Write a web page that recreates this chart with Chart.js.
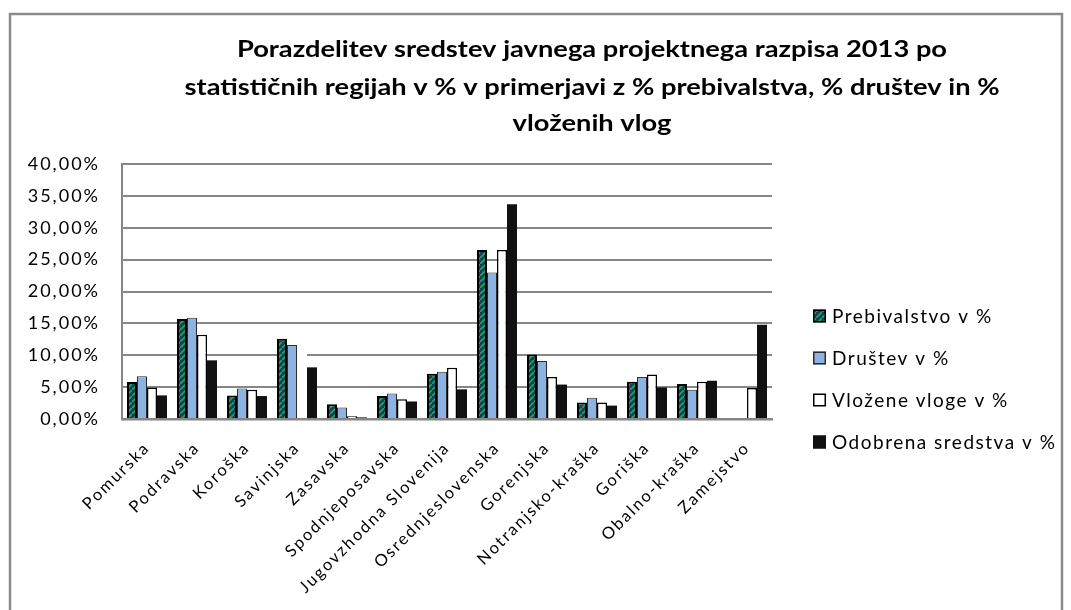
<!DOCTYPE html>
<html>
<head>
<meta charset="utf-8">
<script src="https://cdn.jsdelivr.net/npm/chart.js@4.4.1/dist/chart.umd.min.js"></script>
<style>
  html, body { margin: 0; padding: 0; background: #ffffff; }
  #wrap { width: 1071px; height: 610px; position: relative; }
</style>
</head>
<body>
<div id="wrap"><canvas id="c" width="1071" height="610"></canvas></div>
<script>
const categories = ["Pomurska", "Podravska", "Koroška", "Savinjska", "Zasavska", "Spodnjeposavska",
  "Jugovzhodna Slovenija", "Osrednjeslovenska", "Gorenjska", "Notranjsko-kraška", "Goriška",
  "Obalno-kraška", "Zamejstvo"];
const seriesNames = ["Prebivalstvo v %", "Društev v %", "Vložene vloge v %", "Odobrena sredstva v %"];
const prebivalstvo = [5.8, 15.7, 3.7, 12.6, 2.3, 3.6, 7.1, 26.5, 10.1, 2.6, 5.85, 5.5, null];
const drustev      = [6.7, 15.9, 4.8, 11.6, 1.8, 4.0, 7.4, 23.0, 9.1, 3.35, 6.6, 4.6, null];
const vlozene      = [4.95, 13.2, 4.6, 10.6, 0.45, 3.1, 8.05, 26.5, 6.6, 2.6, 7.0, 5.85, 4.85];
const odobrena     = [3.7, 9.2, 3.6, 8.1, 0.25, 2.75, 4.65, 33.7, 5.4, 2.1, 4.95, 6.0, 14.8];
const yTicks = [0, 5, 10, 15, 20, 25, 30, 35, 40];
const titleLines = [
  "Porazdelitev sredstev javnega projektnega razpisa 2013 po",
  "statističnih regijah v % v primerjavi z % prebivalstva, % društev in %",
  "vloženih vlog"
];

function makePattern() {
  const p = document.createElement('canvas');
  p.width = 6; p.height = 6;
  const g = p.getContext('2d');
  g.fillStyle = '#1f3a5f';
  g.fillRect(0, 0, 6, 6);
  g.strokeStyle = '#12b04e';
  g.lineWidth = 1.6;
  g.beginPath();
  g.moveTo(-1, 7); g.lineTo(7, -1);
  g.stroke();
  return document.getElementById('c').getContext('2d').createPattern(p, 'repeat');
}
const greenPattern = makePattern();

const fills = [greenPattern, '#8db3e2', '#ffffff', '#111111'];
const borders = ['#000000', '#2b2b2b', '#000000', '#111111'];

const framePlugin = {
  id: 'frame',
  beforeDraw(chart) {
    const ctx = chart.ctx;
    ctx.save();
    ctx.fillStyle = '#ffffff';
    ctx.fillRect(0, 0, chart.width, chart.height);
    ctx.strokeStyle = '#8a8a8a';
    ctx.lineWidth = 2.5;
    ctx.strokeRect(10, 14, 1052, 620);
    ctx.restore();
    ctx.letterSpacing = '2px';
  },
  afterDraw(chart) {
    const ctx = chart.ctx;
    ctx.letterSpacing = '0px';
    ctx.save();
    // title
    ctx.fillStyle = '#000';
    ctx.font = 'bold 22px Lato';
    ctx.textAlign = 'center';
    ctx.textBaseline = 'middle';
    const s = 815 / ctx.measureText(titleLines[1]).width;
    const ty = [50, 88, 124];
    titleLines.forEach((t, i) => {
      ctx.save();
      ctx.translate(592, ty[i]);
      ctx.scale(s, 1);
      ctx.fillText(t, 0, 0);
      ctx.restore();
    });
    // legend
    ctx.font = '19px Lato';
    ctx.letterSpacing = '1.5px';
    ctx.textAlign = 'left';
    const ly = [316, 358, 400, 442];
    seriesNames.forEach((name, i) => {
      const bx = 813, by = ly[i] - 6.5;
      ctx.fillStyle = fills[i];
      ctx.fillRect(bx, by, 13, 13);
      ctx.strokeStyle = borders[i];
      ctx.lineWidth = 1.5;
      ctx.strokeRect(bx + 0.75, by + 0.75, 11.5, 11.5);
      ctx.fillStyle = '#000';
      ctx.fillText(name, 832, ly[i] + 1);
    });
    ctx.restore();
    ctx.letterSpacing = '0px';
  }
};

const whiteBorder = vlozene.map((v, i) => i === 3 ? 0 : 1.5);

new Chart(document.getElementById('c'), {
  type: 'bar',
  data: {
    labels: categories,
    datasets: [
      { label: seriesNames[0], data: prebivalstvo, backgroundColor: fills[0], borderColor: borders[0], borderWidth: 2 },
      { label: seriesNames[1], data: drustev, backgroundColor: fills[1], borderColor: borders[1], borderWidth: 1 },
      { label: seriesNames[2], data: vlozene, backgroundColor: fills[2], borderColor: borders[2], borderWidth: whiteBorder },
      { label: seriesNames[3], data: odobrena, backgroundColor: fills[3], borderColor: borders[3], borderWidth: 0 }
    ]
  },
  options: {
    responsive: false,
    animation: false,
    devicePixelRatio: 1,
    layout: { padding: { left: 10, right: 299, top: 164, bottom: 0 } },
    datasets: { bar: { categoryPercentage: 0.8, barPercentage: 1.0, borderSkipped: 'start' } },
    plugins: {
      legend: { display: false },
      title: { display: false },
      tooltip: { enabled: false }
    },
    scales: {
      x: {
        grid: { display: false, drawTicks: false },
        border: { display: true, color: '#868686', width: 2.5 },
        ticks: {
          color: '#000',
          font: { family: 'Lato', size: 16.5 },
          minRotation: 45, maxRotation: 45,
          autoSkip: false,
          padding: 19
        },
        afterFit(scale) { scale.height = 191; }
      },
      y: {
        min: 0, max: 40,
        afterBuildTicks(scale) { scale.ticks = yTicks.map(v => ({ value: v })); },
        grid: { color: '#868686', lineWidth: 2, drawTicks: false },
        border: { display: true, color: '#868686', width: 2 },
        ticks: {
          color: '#000',
          font: { family: 'Lato', size: 18 },
          padding: 22,
          callback: v => v.toFixed(2).replace('.', ',') + '%'
        },
        afterFit(scale) { scale.width = 112; }
      }
    }
  },
  plugins: [framePlugin]
});
</script>
</body>
</html>
